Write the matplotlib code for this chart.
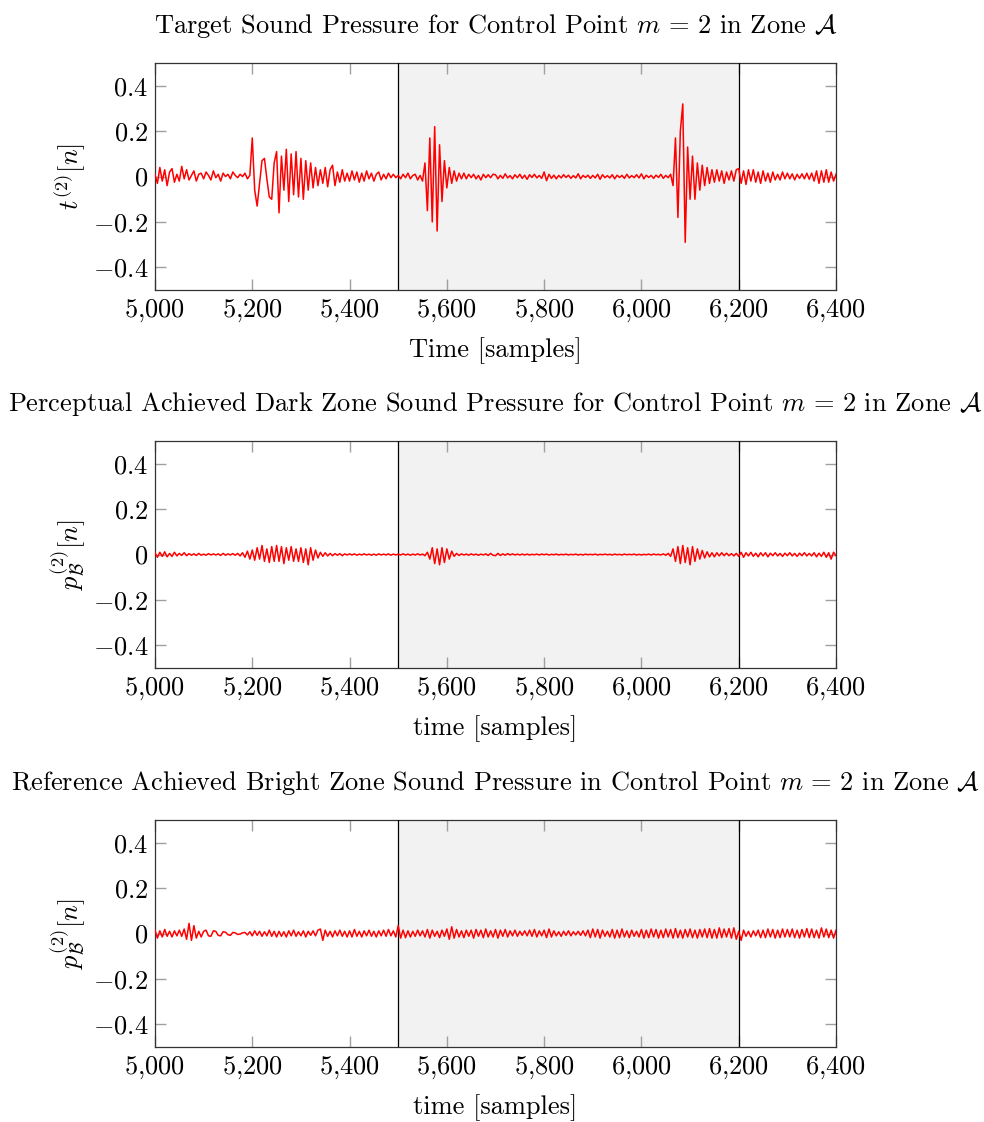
import numpy as np
import matplotlib
matplotlib.use("Agg")
import matplotlib.pyplot as plt

plt.rcParams['font.family'] = 'serif'
plt.rcParams['font.serif'] = ['cmr10']
plt.rcParams['mathtext.fontset'] = 'cm'
plt.rcParams['axes.formatter.use_mathtext'] = True
plt.rcParams['axes.unicode_minus'] = True

# sample axis: 5000..6400 in steps of 5 samples
start_sample = 5000
step = 5

# values in units of 1/1000
target_milli = [
    10, -30, 40, -20, 30, -40, 20, 35, -25, 10,
    -20, 45, -10, 30, -15, 5, 25, -20, 10, 15,
    -10, 20, 5, -15, 25, -5, 10, -20, 15, 0,
    10, -10, 20, 5, -5, 10, 0, 15, -10, 5,
    170, -60, -130, -30, 70, 80, -10, -90, -100, 60,
    110, -160, 90, -60, 120, -110, 100, -80, 110, -90,
    80, -100, 70, -60, 60, -50, 40, -40, 30, -30,
    40, -45, 30, 50, -40, 20, -25, 30, -20, 15,
    -20, 25, -15, 20, -25, 15, -20, 25, -10, 15,
    -20, 10, 20, -15, 10, -10, 15, -5, 10, -5,
    5, -10, 10, -5, 15, -10, 5, 10, -15, 5,
    -20, 60, -150, 170, -200, 220, -240, 140, -110, 70,
    -50, 40, -30, 25, -20, 15, -10, 15, -10, 10,
    -5, 10, -10, 5, -15, 10, -5, 8, -5, 10,
    8, -10, 5, -8, 12, -6, 4, -10, 8, -5,
    10, -8, 6, -12, 8, -4, 10, -6, 5, -8,
    20, -18, 10, -8, 6, -10, 5, -6, 8, -4,
    6, -8, 4, -6, 12, -10, 5, -4, 6, -8,
    5, -6, 10, -12, 8, -5, 4, -6, 8, -10,
    6, -4, 5, -8, 10, -6, 4, -5, 8, -6,
    12, -10, 6, -4, 5, -8, 6, -4, 10, -8,
    5, -5, 10, -40, 170, -180, 200, 320, -290, 130,
    -100, 90, -100, 60, -60, 50, -40, 40, -30, 30,
    -25, 30, -20, 25, -30, 20, -15, 25, -20, 30,
    35, -30, 25, -35, 30, -20, 30, -25, 20, -30,
    25, -20, 15, -25, 20, -15, 10, -15, 20, -10,
    15, -10, 12, -15, 10, -8, 12, -10, 15, -12,
    15, -20, 25, -30, 25, -25, 30, -25, 20, -20,
    10,
]

dark_milli = [
    8, -12, 10, -8, 12, -10, 5, -8, 10, -6,
    5, -4, 8, -5, 4, -3, 3, -4, 5, -3,
    2, -3, 4, -2, 3, -2, 3, -4, 5, -3,
    3, -2, 4, -3, 5, -6, 8, -12, 15, -20,
    20, -25, 30, -20, 40, -30, 25, -35, 35, -30,
    40, -30, 35, -40, 30, -25, 35, -30, 25, -30,
    30, -35, 25, -45, 30, -25, 20, -15, 10, -8,
    8, -6, 5, -5, 4, -3, 4, -5, 3, -2,
    3, -2, 3, -3, 2, -2, 3, -2, 2, -3,
    2, -3, 3, -2, 2, -2, 3, -3, 2, -2,
    2, -2, 3, -2, 2, -3, 2, -2, 3, -2,
    2, -5, 10, -20, 30, -40, 25, -45, 30, -35,
    25, -20, 15, -8, 5, -4, 3, -2, 2, -3,
    3, -2, 2, -3, 2, -2, 3, -4, 5, -3,
    -5, 5, -4, 3, -3, 4, -2, 3, -2, 2,
    -2, 2, -2, 2, -2, 1, -1, 2, -2, 2,
    -1, 2, -2, 1, -1, 2, -2, 1, -1, 2,
    -2, 1, -1, 2, -2, 1, -2, 2, -1, 1,
    -1, 2, -2, 1, -1, 2, -1, 1, -2, 2,
    -1, 1, -2, 2, -1, 1, -1, 2, -2, 1,
    -2, 1, -1, 2, -2, 2, -1, 1, -2, 3,
    -3, 5, -8, 25, -30, 35, -40, 40, -35, 30,
    -45, 35, -30, 25, -20, 18, -15, 12, -10, 8,
    -10, 8, -6, 8, -5, 6, -5, 4, -6, 5,
    -8, 10, -12, 8, -6, 10, -8, 6, -10, 8,
    -6, 8, -10, 6, -5, 8, -6, 5, -8, 6,
    -5, 8, -6, 5, -8, 6, -5, 8, -6, 5,
    -6, 8, -10, 6, -8, 10, -12, 8, -20, 10,
    -5,
]

bright_milli = [
    15, -20, 12, -15, 18, -12, 10, -15, 12, -10,
    15, -12, 20, -25, 45, -30, 35, -20, 10, -15,
    10, 15, -10, -12, 12, 10, -8, -10, 8, 6,
    -5, -8, 5, 3, -4, -2, 3, 5, -6, 8,
    -10, 12, -8, 10, -12, 8, -10, 15, -12, 10,
    -15, 10, -12, 8, -15, 12, -10, 15, -12, 8,
    -10, 12, -15, 10, -8, 12, -10, 15, 20, -30,
    15, -12, 10, -15, 12, -10, 15, -12, 10, -15,
    12, -15, 18, -12, 10, -15, 12, -10, 15, -12,
    10, -15, 12, -10, 15, -12, 18, -10, 12, -15,
    35, -20, 15, -18, 12, -15, 10, -12, 15, -10,
    12, -15, 18, -20, 15, -12, 10, -18, 15, -12,
    20, -25, 30, -20, 18, -15, 12, -18, 15, -12,
    15, -20, 18, -12, 15, -18, 20, -15, 12, -15,
    18, -20, 15, -12, 18, -15, 12, -10, 15, -12,
    10, -8, 12, -10, 15, -12, 18, -15, 12, -10,
    15, -18, 20, -15, 12, -10, 8, -12, 10, -8,
    12, -10, 8, -6, 10, -8, 12, -10, 15, -18,
    20, -15, 18, -20, 15, -12, 10, -15, 18, -20,
    15, -18, 20, -15, 12, -18, 15, -12, 10, -15,
    18, -20, 15, -18, 20, -15, 18, -20, 15, -18,
    20, -15, 18, -20, 22, -18, 15, -20, 18, -15,
    20, -18, 15, -20, 18, -15, 20, -18, 22, -20,
    18, -20, 25, -18, 20, -15, 22, -20, 25, -25,
    10, -30, 15, -12, 10, -15, 12, -10, 15, -18,
    15, -18, 20, -15, 18, -20, 15, -18, 20, -15,
    18, -15, 20, -18, 15, -20, 18, -15, 22, -18,
    20, -18, 15, -20, 25, -15, 20, -18, 15, -20,
    15,
]

titles = [
    r"Target Sound Pressure for Control Point $m\,=\,2$ in Zone $\mathcal{A}$",
    r"Perceptual Achieved Dark Zone Sound Pressure for Control Point $m\,=\,2$ in Zone $\mathcal{A}$",
    r"Reference Achieved Bright Zone Sound Pressure in Control Point $m\,=\,2$ in Zone $\mathcal{A}$",
]
ylabels = [r"$t^{(2)}[n]$", r"$p_{\mathcal{B}}^{(2)}[n]$", r"$p_{\mathcal{B}}^{(2)}[n]$"]
xlabels = ["Time [samples]", "time [samples]", "time [samples]"]
xticks = [5000, 5200, 5400, 5600, 5800, 6000, 6200, 6400]
yticks = [-0.4, -0.2, 0.0, 0.2, 0.4]
zone_lo, zone_hi = 5500, 6200

series = [target_milli, dark_milli, bright_milli]

fig = plt.figure(figsize=(9.84, 11.22), dpi=100)
bottoms = [0.7415, 0.4046, 0.0668]
FS = 19

def xfmt(v):
    s = f"{v:,}".replace(",", "{,}")
    return f"${s}$"

def yfmt(v):
    if abs(v) < 1e-9:
        return "$0$"
    return f"${v:.1f}$"

for i in range(3):
    ax = fig.add_axes([0.1575, bottoms[i], 0.6921, 0.2023])
    vals = np.array(series[i], dtype=float) / 1000.0
    n = start_sample + step * np.arange(len(vals))
    ax.axvspan(zone_lo, zone_hi, color='#f2f2f2', lw=0, zorder=0)
    ax.axvline(zone_lo, color='black', lw=0.9, zorder=3)
    ax.axvline(zone_hi, color='black', lw=0.9, zorder=3)
    ax.plot(n, vals, color='red', lw=1.1, zorder=4)
    ax.set_xlim(5000, 6400)
    ax.set_ylim(-0.5, 0.5)
    ax.set_xticks(xticks)
    ax.set_xticklabels([xfmt(v) for v in xticks])
    ax.set_yticks(yticks)
    ax.set_yticklabels([yfmt(v) for v in yticks])
    ax.tick_params(direction='in', length=8, width=1, color='#a0a0a0',
                   top=True, right=True, labelsize=FS, pad=5)
    for sp in ax.spines.values():
        sp.set_color('#333333')
        sp.set_linewidth(0.9)
    ax.set_title(titles[i], fontsize=FS, pad=22)
    ax.set_xlabel(xlabels[i], fontsize=FS, labelpad=10)
    ax.set_ylabel(ylabels[i], fontsize=FS, labelpad=4)

fig.savefig("out.png", dpi=100)
